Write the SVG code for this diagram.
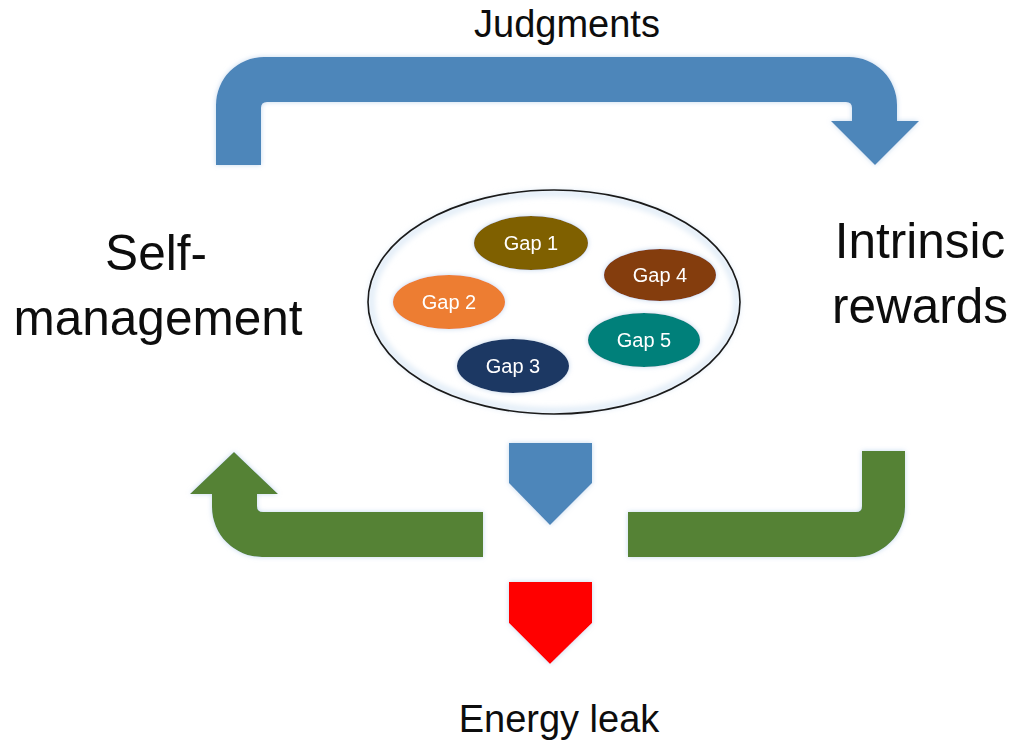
<svg xmlns="http://www.w3.org/2000/svg" width="1016" height="740" viewBox="0 0 1016 740">
  <defs>
    <filter id="glow" x="-10%" y="-10%" width="120%" height="120%">
      <feFlood flood-color="#a9c6e6" flood-opacity="0.7" result="c"/>
      <feComposite in="c" in2="SourceAlpha" operator="in" result="s"/>
      <feGaussianBlur in="s" stdDeviation="2.5" result="b"/>
      <feMerge><feMergeNode in="b"/><feMergeNode in="SourceGraphic"/></feMerge>
    </filter>
    <filter id="inner" x="-5%" y="-5%" width="110%" height="110%">
      <feGaussianBlur stdDeviation="3"/>
    </filter>
  </defs>
  <style>
    .lbl { font-family: "Liberation Sans", Arial, sans-serif; fill: #0d0d0d; text-anchor: middle; }
    .big { font-size: 49.5px; }
    .mid { font-size: 38px; }
    .gap { font-family: "Liberation Sans", Arial, sans-serif; font-size: 20px; fill: #ffffff; text-anchor: middle; }
    .blue { fill: #4e86ba; }
    .green { fill: #548235; }
    .red { fill: #ff0000; }
  </style>
  <rect width="1016" height="740" fill="#ffffff"/>

  <g id="connectors" filter="url(#glow)">
    <path id="judgments-arrow" class="blue" d="M 216 165 L 216 105 A 48 48 0 0 1 264 57 L 849 57 A 48 48 0 0 1 897 105 L 897 121 L 919 121 L 875 165 L 831 121 L 852 121 L 852 108 Q 852 102 846 102 L 267 102 Q 261 102 261 108 L 261 165 Z"/>
    <path id="return-left" class="green" d="M 483 512 L 263 512 Q 257 512 257 506 L 257 494 L 278 494 L 234 452 L 190 494 L 212 494 L 212 507 A 50 50 0 0 0 262 557 L 483 557 Z"/>
    <path id="return-right" class="green" d="M 628 512 L 856 512 Q 862 512 862 506 L 862 451 L 905 451 L 905 507 A 50 50 0 0 1 855 557 L 628 557 Z"/>
    <path id="gaps-down" class="blue" d="M 509 443 L 592 443 L 592 483 L 550 525 L 509 483 Z"/>
    <path id="leak-down" class="red" d="M 509 582 L 592 582 L 592 623 L 550 664 L 509 623 Z"/>
  </g>

  <g id="judgments-label">
    <text class="lbl mid" x="567" y="37">Judgments</text>
  </g>
  <g id="self-management">
    <text class="lbl big" x="156" y="270">Self-</text>
    <text class="lbl big" x="158" y="335">management</text>
  </g>
  <g id="intrinsic-rewards">
    <text class="lbl big" x="920" y="258">Intrinsic</text>
    <text class="lbl big" x="920" y="323">rewards</text>
  </g>
  <g id="energy-leak">
    <text class="lbl mid" x="559" y="732">Energy leak</text>
  </g>

  <g id="gaps-container">
    <ellipse cx="554" cy="302" rx="186" ry="112" fill="#ffffff"/>
    <ellipse cx="554" cy="302" rx="183" ry="109" fill="none" stroke="#d6e5f4" stroke-width="5" filter="url(#inner)"/>
    <ellipse cx="554" cy="302" rx="186" ry="112" fill="none" stroke="#1a1a1a" stroke-width="1.6"/>
  </g>
  <g id="gap1" filter="url(#glow)">
    <ellipse cx="531" cy="243" rx="57" ry="27" fill="#7f6000"/>
    <text class="gap" x="531" y="250">Gap 1</text>
  </g>
  <g id="gap2" filter="url(#glow)">
    <ellipse cx="449" cy="302" rx="56" ry="27" fill="#ed7d31"/>
    <text class="gap" x="449" y="309">Gap 2</text>
  </g>
  <g id="gap3" filter="url(#glow)">
    <ellipse cx="513" cy="366" rx="56" ry="27" fill="#1f3864"/>
    <text class="gap" x="513" y="373">Gap 3</text>
  </g>
  <g id="gap4" filter="url(#glow)">
    <ellipse cx="660" cy="275" rx="56" ry="26" fill="#843c0c"/>
    <text class="gap" x="660" y="282">Gap 4</text>
  </g>
  <g id="gap5" filter="url(#glow)">
    <ellipse cx="644" cy="340" rx="56" ry="27" fill="#00807a"/>
    <text class="gap" x="644" y="347">Gap 5</text>
  </g>
</svg>
